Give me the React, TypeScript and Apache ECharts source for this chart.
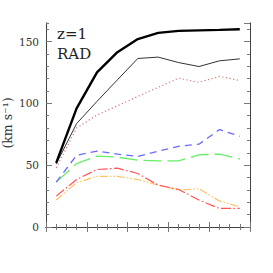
import React, { useEffect, useRef } from "react";
import * as echarts from "echarts";

const xPositions = [1, 3, 5, 7, 9, 11, 13, 15, 17, 19];
const totalThick = [51.9, 96, 125, 141.4, 152, 157, 158.6, 159, 159.4, 160];
const totalThin = [51, 83.6, 101.6, 119, 136.3, 137.4, 133, 129.8, 134.4, 136];
const dottedRed = [47.8, 80, 90.6, 98, 105.6, 113, 120.4, 117, 121.8, 118.5];
const blueDashed = [36.3, 58, 61.3, 59, 57, 61.3, 65.3, 67, 78.8, 73.4];
const greenDashed = [36.3, 51.3, 57.3, 56.5, 54, 53.5, 53.5, 58.3, 59, 55];
const redDashDot = [25, 38.4, 46.5, 47.6, 43.3, 33.9, 30.4, 21.8, 15, 15];
const orangeDashDot = [21.8, 35.8, 41, 41, 38.4, 33.9, 29.8, 31, 21, 16.4];
const yMajorTicks = [0, 50, 100, 150];

const pairs = (ys: number[]) => xPositions.map((x, i) => [x, ys[i]]);

export default function App() {
  const ref = useRef<HTMLDivElement>(null);
  useEffect(() => {
    const chart = echarts.init(ref.current!, null, { renderer: "svg" });
    const font = "DejaVu Serif";
    const frame = "#444";
    const tickColor = "#777";
    const baseY = {
      type: "value" as const,
      min: 0,
      max: 165,
      axisLine: { show: true, lineStyle: { color: frame, width: 1 } },
      splitLine: { show: false },
    };
    const baseX = {
      type: "value" as const,
      min: 0,
      max: 20,
      interval: 4,
      axisLine: { show: true, lineStyle: { color: frame, width: 1 } },
      splitLine: { show: false },
      axisLabel: { show: false },
      axisTick: { show: true, inside: true, length: 5, lineStyle: { color: tickColor } },
      minorTick: { show: true, splitNumber: 4, length: 3, lineStyle: { color: tickColor } },
    };
    const line = (data: number[], color: string, width: number, type: any, z = 2) => ({
      type: "line",
      data: pairs(data),
      showSymbol: false,
      symbol: "none",
      z,
      lineStyle: { color, width, type },
    });
    chart.setOption({
      animation: false,
      grid: { left: 46, top: 23, width: 204, height: 204 },
      xAxis: [
        { ...baseX, position: "bottom" },
        { ...baseX, position: "top" },
      ],
      yAxis: [
        {
          ...baseY,
          position: "left",
          interval: 50,
          axisTick: { show: true, inside: true, length: 6, lineStyle: { color: tickColor } },
          axisLabel: {
            show: true,
            margin: 7,
            fontFamily: font,
            fontSize: 10.5,
            color: "#333",
            showMaxLabel: false,
            formatter: (v: number) => (yMajorTicks.includes(v) ? String(v) : ""),
          },
        },
        {
          ...baseY,
          position: "left",
          interval: 10,
          axisTick: { show: true, inside: true, length: 3, lineStyle: { color: tickColor } },
          axisLabel: { show: false },
        },
        {
          ...baseY,
          position: "right",
          interval: 50,
          axisTick: { show: true, inside: true, length: 6, lineStyle: { color: tickColor } },
          axisLabel: { show: false },
        },
        {
          ...baseY,
          position: "right",
          interval: 10,
          axisTick: { show: true, inside: true, length: 3, lineStyle: { color: tickColor } },
          axisLabel: { show: false },
        },
      ],
      graphic: [
        {
          type: "text",
          x: 57,
          y: 41,
          style: { text: "z=1", font: `15px "${font}"`, fill: "#222", textVerticalAlign: "bottom" },
        },
        {
          type: "text",
          x: 57,
          y: 61,
          style: { text: "RAD", font: `15px "${font}"`, fill: "#222", textVerticalAlign: "bottom" },
        },
        {
          type: "text",
          x: 7,
          y: 123,
          rotation: Math.PI / 2,
          style: {
            text: "(km s\u207B\u00B9)",
            font: `12.5px "${font}"`,
            fill: "#333",
            textAlign: "center",
            textVerticalAlign: "middle",
          },
        },
      ],
      series: [
        line(orangeDashDot, "#ffc060", 1.2, [8, 2, 1.5, 2, 1.5, 2]),
        line(redDashDot, "#ff5555", 1.2, [10, 2.5, 1.5, 2.5]),
        line(greenDashed, "#66ee66", 1.3, [18, 6]),
        line(blueDashed, "#6a6aff", 1.3, [7, 5]),
        line(dottedRed, "#d07878", 1.2, [1.2, 2.5]),
        line(totalThin, "#333", 1, "solid", 3),
        line(totalThick, "#000", 2.4, "solid", 4),
      ],
    });
    return () => chart.dispose();
  }, []);
  return (
    <div
      ref={ref}
      style={{ position: "absolute", left: 0, top: 0, width: 273, height: 273 }}
    />
  );
}
